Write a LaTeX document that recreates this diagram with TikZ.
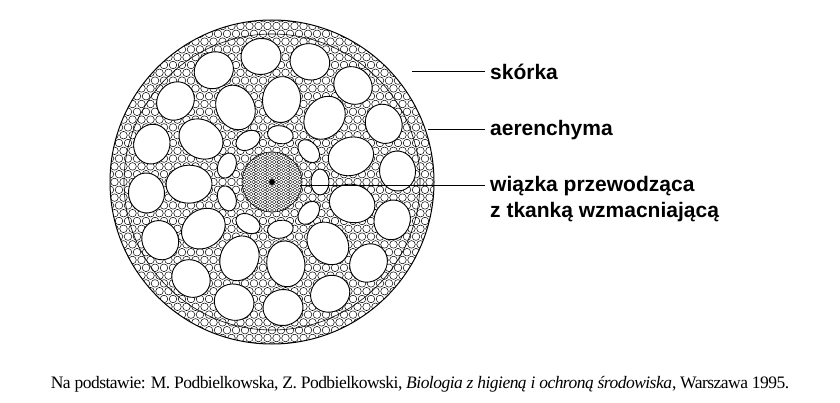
\documentclass[tikz,border=0pt]{standalone}
\usepackage{fontspec}
\usetikzlibrary{calc}
\setmainfont{Liberation Serif}
\newfontfamily\lab{Liberation Sans}
\begin{document}
\begin{tikzpicture}[x=1pt,y=1pt,
  cell/.style={draw=black,line width=0.5pt},
  hole/.style={draw=black,fill=white,line width=0.9pt},
  lbl/.style={font=\lab\bfseries\fontsize{21}{24}\selectfont,anchor=west,inner sep=0pt},
  lead/.style={line width=1pt}]
\useasboundingbox (0,0) rectangle (840,402);
\coordinate (C) at (272,220);
% cells
\begin{scope}
\clip (C) circle[radius=162pt];
\fill[white] (C) circle[radius=162pt];
\foreach \j in {-21,...,21}{
  \foreach \i in {-19,...,19}{
    \pgfmathsetmacro\xx{\i*9+mod(\j+21,2)*4.5}
    \pgfmathsetmacro\yy{\j*7.8}
    \draw[cell] ($(C)+(\xx,\yy)$) circle[radius=3.8pt];
  }}
\end{scope}
\draw[line width=1pt] (C) circle[radius=162pt];
\draw[line width=0.6pt] (C) circle[radius=148pt];
% aerenchyma holes
\foreach \k in {0,...,15}{
  \pgfmathsetmacro\a{\k*22.5+5}
  \draw[hole] ($(C)+(\a:126)$) ellipse[x radius=18pt,y radius=20pt,rotate=\a];}
\foreach \k in {0,...,10}{
  \pgfmathsetmacro\a{\k*32.7+18}
  \draw[hole] ($(C)+(\a:83)$) ellipse[x radius=23pt,y radius=19pt,rotate=\a];}
\foreach \k in {0,...,8}{
  \pgfmathsetmacro\a{\k*40}
  \draw[hole] ($(C)+(\a:48)$) ellipse[x radius=9pt,y radius=13pt,rotate=\a];}
% vascular bundle
\begin{scope}
\clip (C) circle[radius=30pt];
\fill[white] (C) circle[radius=30pt];
\foreach \j in {-8,...,8}{
  \foreach \i in {-8,...,8}{
    \pgfmathsetmacro\xx{\i*4.6+mod(\j+8,2)*2.3}
    \pgfmathsetmacro\yy{\j*4}
    \draw[line width=0.4pt] ($(C)+(\xx,\yy)$) circle[radius=1.9pt];
  }}
\end{scope}
\draw[line width=0.6pt] (C) circle[radius=30pt];
\fill (C) circle[radius=3pt];
% labels
\node[lbl] (s) at (490,330) {skórka};
\node[lbl] (a) at (490,272) {aerenchyma};
\node[lbl] (w) at (490,216) {wiązka przewodząca};
\node[lbl] (z) at (490,190) {z tkanką wzmacniającą};
\coordinate (ps) at (412,330);
\coordinate (pa) at (428,272);
\coordinate (pw) at (300,216);
\draw[lead] (ps) -- ([xshift=-5pt]s.west);
\draw[lead] (pa) -- ([xshift=-5pt]a.west);
\draw[lead] (pw) -- ([xshift=-5pt]w.west);
\node[font=\fontsize{17.5}{20}\selectfont,inner sep=0pt] (cap) at (420,18)
 {\addfontfeatures{LetterSpace=-3}Na podstawie: M. Podbielkowska, Z. Podbielkowski, \textit{Biologia z higieną i ochroną środowiska}, Warszawa 1995.};
\end{tikzpicture}
\end{document}
